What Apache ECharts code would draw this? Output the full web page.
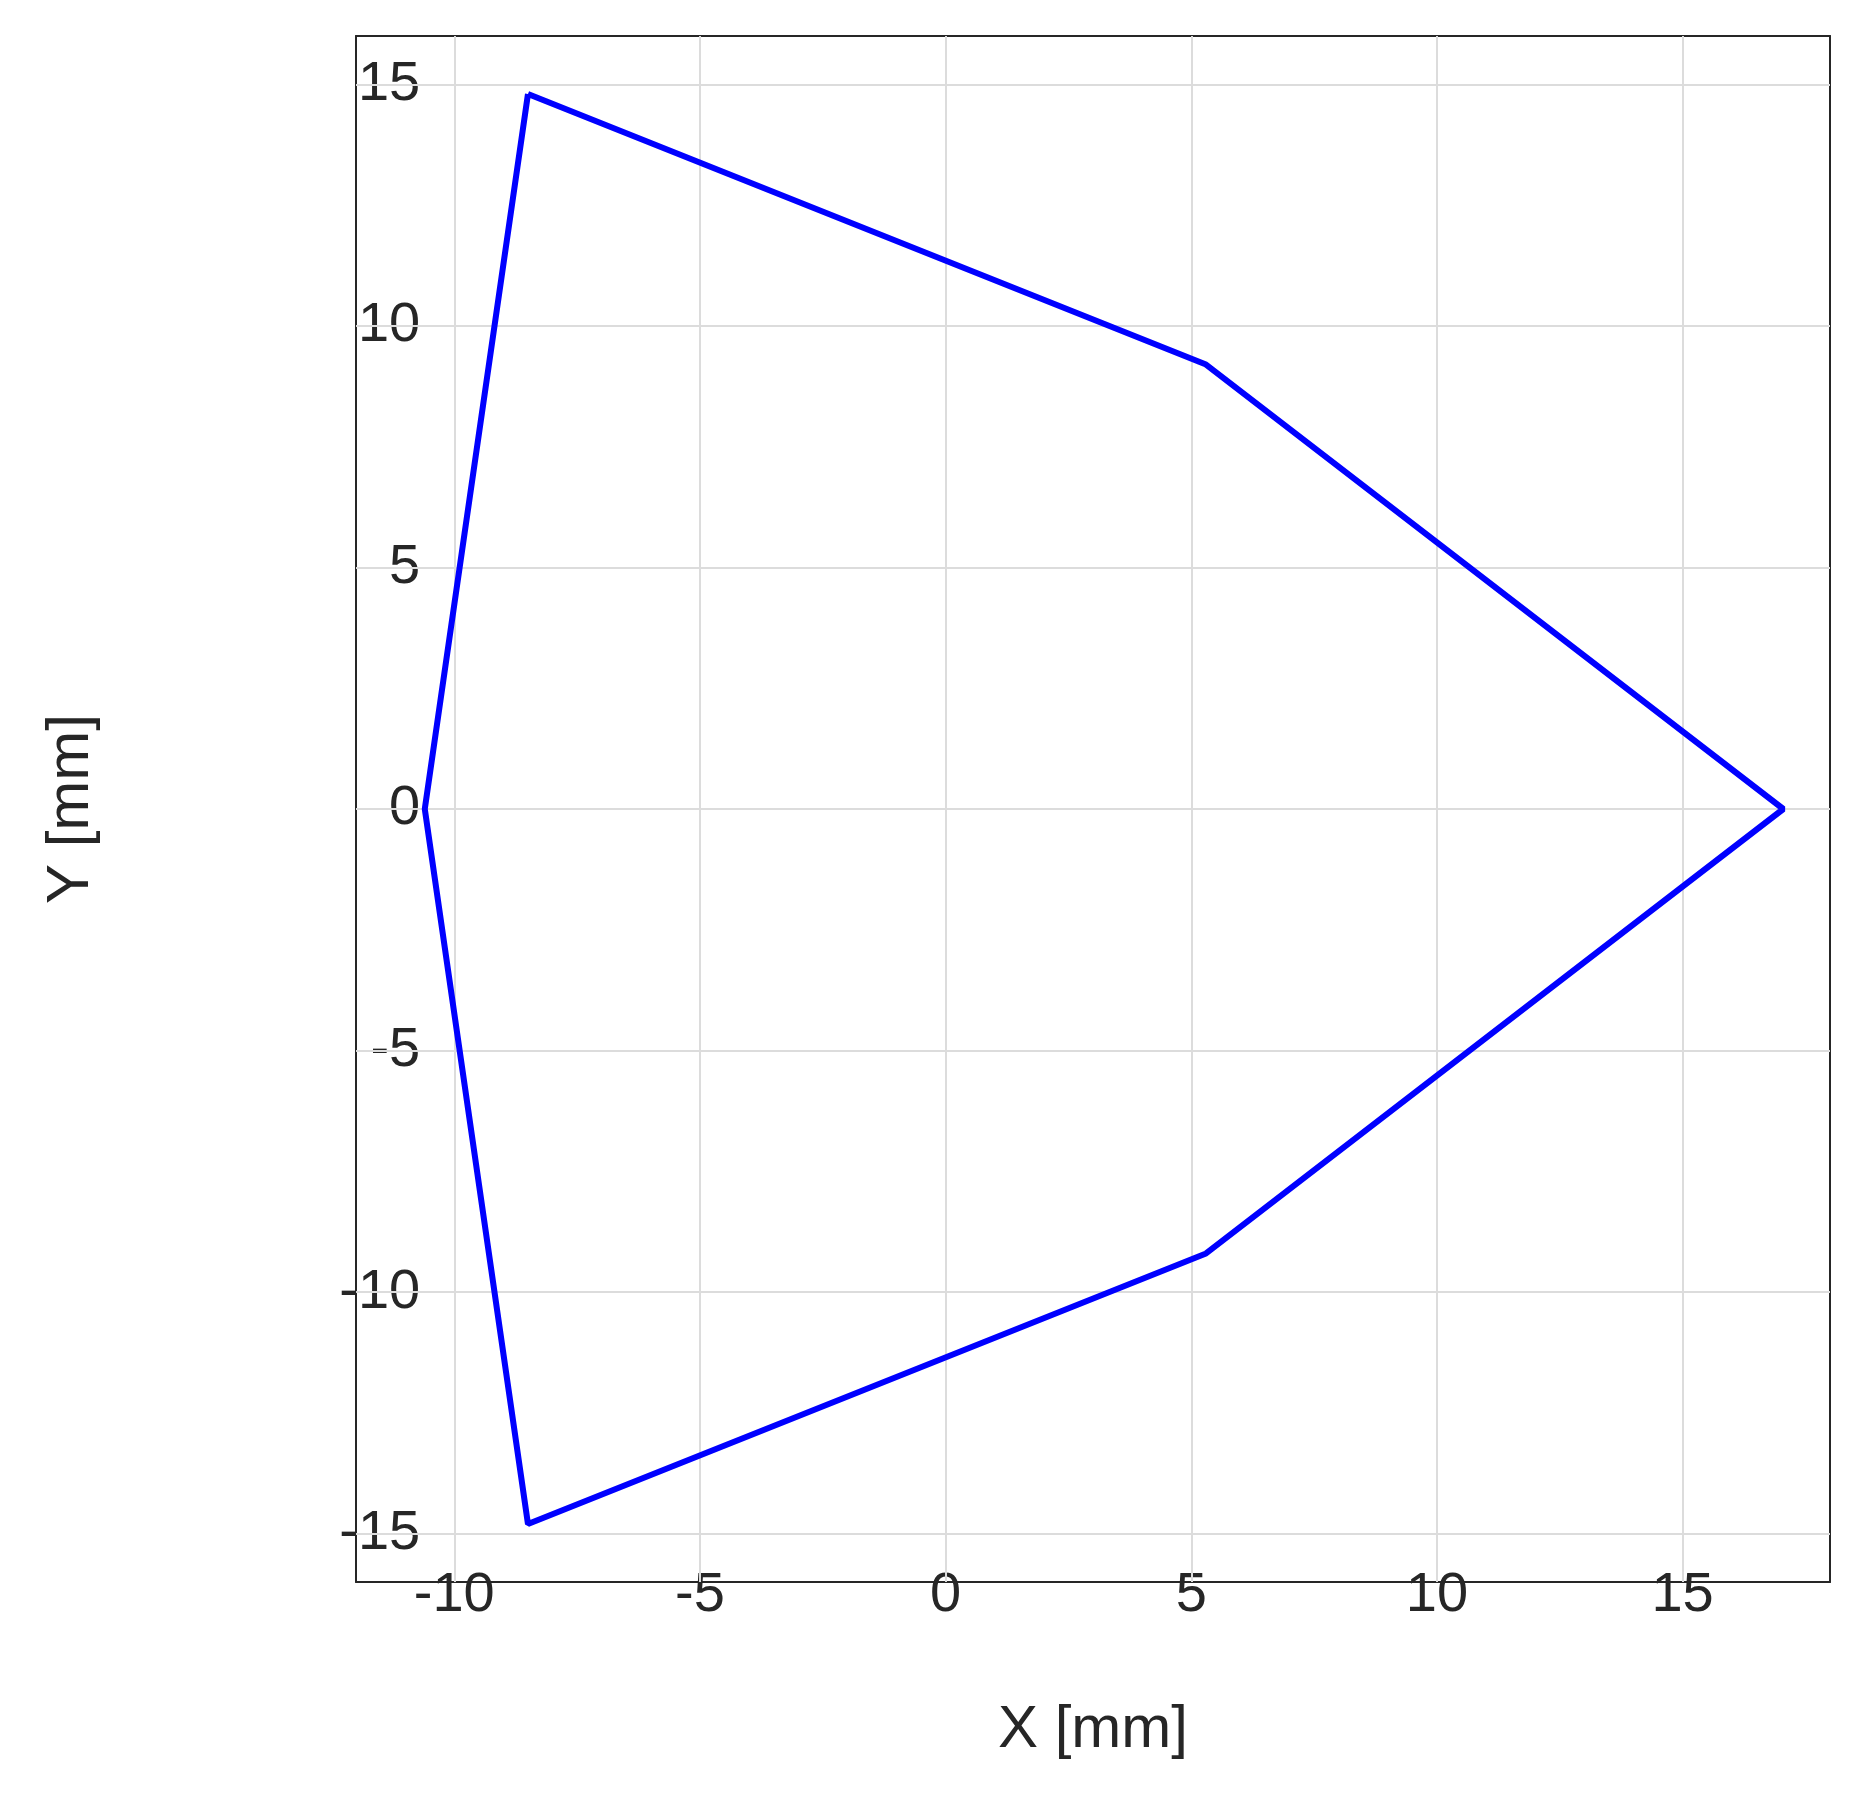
<!DOCTYPE html>
<html>
<head>
<meta charset="utf-8">
<title>Polygon</title>
<script src="https://cdn.jsdelivr.net/npm/echarts@6/dist/echarts.min.js"></script>
</head>
<body style="margin:0;background:#fff">
<div id="main" style="width:1866px;height:1808px;"></div>
<script>
// polygon vertices (closed outline)
var xs = [-8.5, 5.3, 17.05, 5.3, -8.5, -10.6, -8.5];
var ys = [14.8, 9.2, 0, -9.2, -14.8, 0, 14.8];
var xTicks = [-10, -5, 0, 5, 10, 15];
var yTicks = [-15, -10, -5, 0, 5, 10, 15];

var W = 1866, H = 1808;
var L = 356, R = 36, T = 36, B = 226;
var xMin = -12, xMax = 18, yMin = -16, yMax = 16;
var ux = (W - L - R) / (xMax - xMin);
var uy = (H - T - B) / (yMax - yMin);
// inner grid spans exactly the tick range, so ticks land on multiples of 5
var dl = (xTicks[0] - xMin) * ux, dr = (xMax - xTicks[xTicks.length - 1]) * ux;
var dt = (yMax - yTicks[yTicks.length - 1]) * uy, db = (yTicks[0] - yMin) * uy;

var chart = echarts.init(document.getElementById('main'));
var font = 'Arial, Liberation Sans';
var ink = '#262626';
var tick = {show: true, inside: true, length: 14, lineStyle: {color: ink, width: 2}};
var frame = {type: 'value', axisLine: {show: true, onZero: false, lineStyle: {color: ink, width: 2}},
  axisTick: {show: false}, axisLabel: {show: false}, splitLine: {show: false}};
function inner(min, max, pos, off, labels) {
  return {type: 'value', gridIndex: 1, min: min, max: max, interval: 5, position: pos, offset: off,
    axisLine: {show: false}, axisTick: tick, splitLine: {show: false},
    axisLabel: labels ? {fontFamily: font, fontSize: 56, color: ink, margin: 34 - off} : {show: false}};
}
var grid = [];
chart.setOption({
  animation: false,
  grid: [
    {left: L, right: R, top: T, bottom: B},
    {left: L + dl, right: R + dr, top: T + dt, bottom: B + db}
  ],
  xAxis: [
    Object.assign({}, frame, {min: xMin, max: xMax, position: 'bottom',
      name: 'X [mm]', nameLocation: 'middle', nameGap: 118,
      nameTextStyle: {fontFamily: font, fontSize: 60, color: ink}}),
    Object.assign({}, frame, {min: xMin, max: xMax, position: 'top'}),
    inner(xTicks[0], xTicks[xTicks.length - 1], 'bottom', db, true),
    inner(xTicks[0], xTicks[xTicks.length - 1], 'top', dt, false)
  ],
  yAxis: [
    Object.assign({}, frame, {min: yMin, max: yMax, position: 'left',
      name: 'Y [mm]', nameLocation: 'middle', nameGap: 255,
      nameTextStyle: {fontFamily: font, fontSize: 60, color: ink}}),
    Object.assign({}, frame, {min: yMin, max: yMax, position: 'right'}),
    inner(yTicks[0], yTicks[yTicks.length - 1], 'left', dl, true),
    inner(yTicks[0], yTicks[yTicks.length - 1], 'right', dr, false)
  ],
  series: [{
    type: 'line', xAxisIndex: 0, yAxisIndex: 0, symbol: 'none',
    lineStyle: {color: '#0000ff', width: 6}, z: 5,
    data: xs.map(function (x, i) { return [x, ys[i]]; }),
    markLine: {
      silent: true, symbol: 'none', label: {show: false}, animation: false,
      lineStyle: {color: '#dcdcdc', width: 2, type: 'solid'},
      data: xTicks.map(function (v) { return {xAxis: v}; })
        .concat(yTicks.map(function (v) { return {yAxis: v}; }))
    }
  }]
});
</script>
</body>
</html>
